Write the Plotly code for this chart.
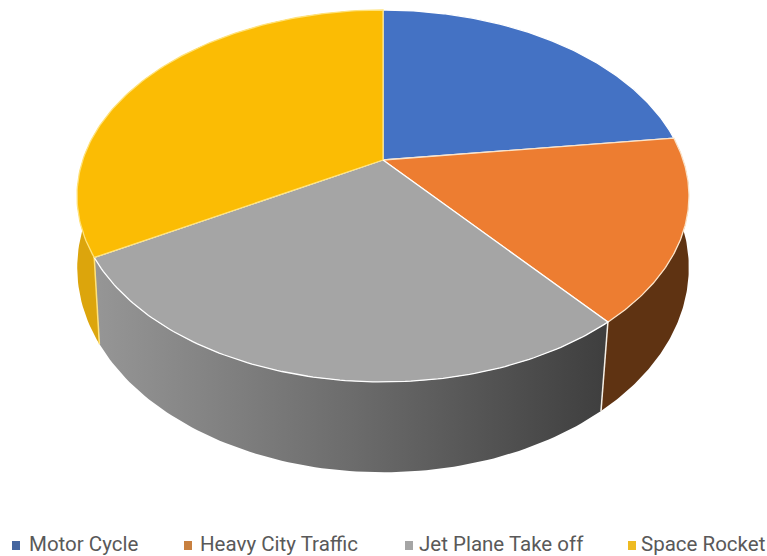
import numpy as np
import plotly.graph_objects as go

categories = ["Motor Cycle", "Heavy City Traffic", "Jet Plane Take off", "Space Rocket"]
values = [23.0, 16.0, 27.8, 33.2]
top_colors = ["#4472C4", "#ED7D31", "#A5A5A5", "#FBBC04"]
legend_colors = ["#44659f", "#c8803f", "#a5a5a5", "#eebb22"]
legend_text_x = [27, 198, 417, 639]
swatch_x = [16, 188, 409, 632]

# projection of the tilted disc: top face and bottom face
K = 0.1935
TOP = dict(cx=383, cy=160, a=300.2, b=179, f=1.0)
BOT = dict(cx=383, cy=228, a=300, b=197, f=0.96)


def project(theta_deg, p):
    t = np.radians(180 + (np.asarray(theta_deg) - 180) * p["f"])
    X, Y = np.sin(t), np.cos(t)
    d = 1 + K * Y
    return p["cx"] + p["a"] * X / d, p["cy"] - p["b"] * Y / d


edges = np.concatenate([[0], np.cumsum(values)]) / np.sum(values) * 360
fig = go.Figure()


def side(i, colorscale, edge):
    th = np.linspace(edges[i], edges[i + 1], 90)
    tx, ty = project(th, TOP)
    bx, by = project(th[::-1], BOT)
    tr = dict(
        x=np.r_[tx, bx, tx[0]], y=np.r_[ty, by, ty[0]], mode="lines", fill="toself",
        line=dict(width=0, color=edge), hoverinfo="skip", showlegend=False,
    )
    if len(colorscale) == 1:
        tr["fillcolor"] = colorscale[0]
    else:
        tr["fillgradient"] = dict(type="horizontal", colorscale=colorscale)
    fig.add_trace(go.Scatter(**tr))


def seam(i, color):
    x0, y0 = project(edges[i], TOP)
    x1, y1 = project(edges[i], BOT)
    fig.add_trace(go.Scatter(x=[x0, x1], y=[y0, y1], mode="lines",
                             line=dict(color=color, width=1.5), hoverinfo="skip", showlegend=False))


# visible sides: the yellow one, then orange, then grey
side(3, ["#dca50c"], "#ffd75a")
side(1, ["#5f3312"], "#ffffff")
side(2, [[0, "#969696"], [0.5, "#6c6c6c"], [1, "#3e3e3e"]], "#ffffff")
seam(2, "#f5efe6")
seam(3, "#ffe27a")

line_colors = ["#ffffff", "#fbe3c8", "#ffffff", "#ffe27a"]
for i, c in enumerate(categories):
    th = np.linspace(edges[i], edges[i + 1], 120)
    x, y = project(th, TOP)
    fig.add_trace(go.Scatter(
        x=np.r_[TOP["cx"], x, TOP["cx"]], y=np.r_[TOP["cy"], y, TOP["cy"]],
        mode="lines", fill="toself", fillcolor=top_colors[i], name=c,
        line=dict(color=line_colors[i], width=1.3), showlegend=False, hoverinfo="name",
    ))

for i, c in enumerate(categories):
    fig.add_annotation(x=legend_text_x[i], y=544, text=c, showarrow=False, xanchor="left", yanchor="middle",
                       font=dict(family="Roboto, sans-serif", size=20.5, color="#595959"))
    fig.add_shape(type="rect", x0=swatch_x[i] - 4, x1=swatch_x[i] + 4, y0=541, y1=550,
                  fillcolor=legend_colors[i], line_width=0)

fig.update_layout(
    width=767, height=556, margin=dict(l=0, r=0, t=0, b=0), showlegend=False,
    paper_bgcolor="white", plot_bgcolor="white",
    xaxis=dict(range=[0, 767], visible=False, fixedrange=True),
    yaxis=dict(range=[556, 0], visible=False, fixedrange=True),
)
fig.write_html("out.html", config=dict(displayModeBar=False),
               post_script="document.body.style.margin='0';document.body.style.overflow='hidden';")
